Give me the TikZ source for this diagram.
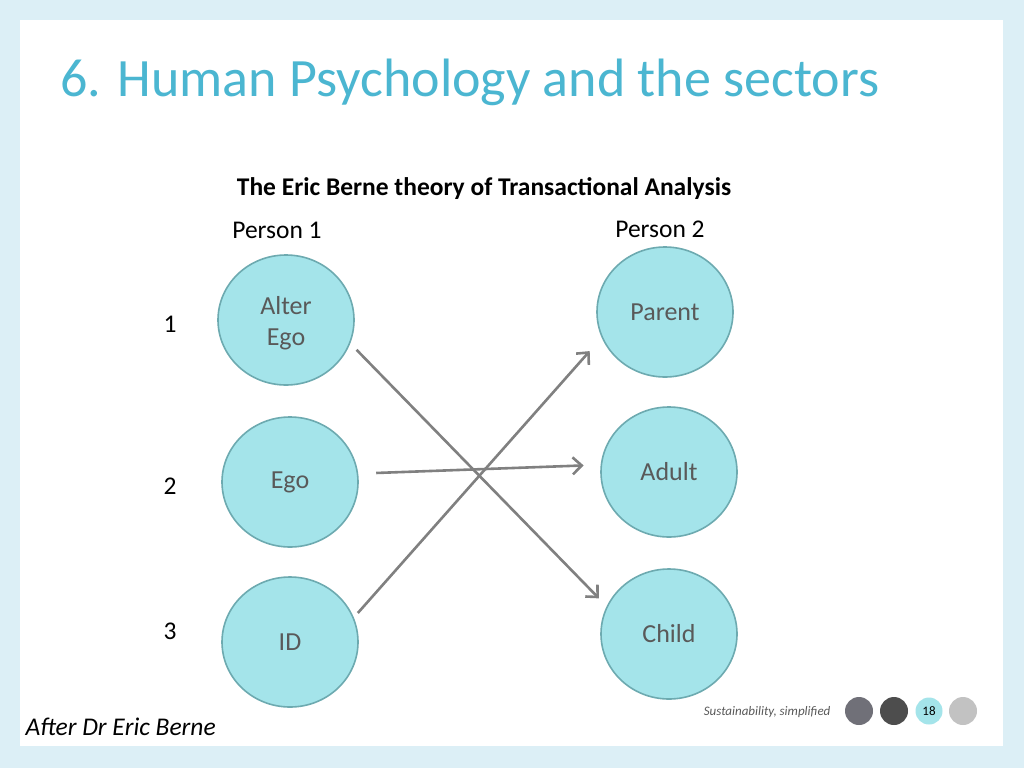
\documentclass[tikz,border=0pt]{standalone}
\usepackage{fontspec}
\setmainfont{Carlito}
\usetikzlibrary{shapes.geometric,arrows.meta}

\definecolor{framebg}{HTML}{DCEFF6}
\definecolor{titleblue}{HTML}{4BB6D1}
\definecolor{bubblefill}{HTML}{A4E4EA}
\definecolor{bubbleline}{HTML}{6DAAB0}
\definecolor{bubbletext}{HTML}{595959}
\definecolor{linkgray}{HTML}{808080}
\definecolor{dotone}{HTML}{707078}
\definecolor{dottwo}{HTML}{4D4D4D}
\definecolor{dotfour}{HTML}{C2C2C2}

\tikzset{
  bubble/.style={ellipse,draw=bubbleline,fill=bubblefill,line width=1.6pt,
    minimum width=136pt,minimum height=130pt,inner sep=0pt,
    text=bubbletext,align=center,font=\fontsize{26}{31}\selectfont},
  plain/.style={font=\fontsize{25.5}{30}\selectfont},
  link/.style={draw=linkgray,line width=2.6pt,-{Straight Barb[length=9pt,width=17pt,line width=2.6pt]}},
  dot/.style={circle,minimum size=28pt,inner sep=0pt}
}

\begin{document}
\begin{tikzpicture}[x=1pt,y=-1pt]
\useasboundingbox (0,0) rectangle (1024,768);
\fill[framebg] (0,0) rectangle (1024,768);
\fill[white] (20,20) rectangle (1003,746);

% title and headings
\node[anchor=west,text=titleblue,font=\fontsize{54}{62}\selectfont] (title) at (57,82) {6. Human Psychology and the sectors};
\node[font=\bfseries\fontsize{25.5}{30}\selectfont] (theory) at (484,189) {The Eric Berne theory of Transactional Analysis};
\node[plain] (p1) at (277,230) {Person 1};
\node[plain] (p2) at (660,229) {Person 2};

% row numbers
\node[plain] (n1) at (170,324) {1};
\node[plain] (n2) at (170,486) {2};
\node[plain] (n3) at (170,631) {3};

% person 1
\node[bubble] (alter) at (286,320) {};
\node[text=bubbletext,align=center,font=\fontsize{26}{31}\selectfont] (altertext) at (286,323) {Alter\\Ego};
\node[bubble] (ego) at (290,482) {Ego};
\node[bubble] (id) at (290,642) {ID};

% person 2
\node[bubble] (parent) at (665,312) {Parent};
\node[bubble] (adult) at (669,472) {Adult};
\node[bubble] (child) at (669,634) {Child};

% transactions
\draw[link,shorten <=9pt,shorten >=11pt] (alter.-20) -- (child.156);
\draw[link,shorten <=18pt,shorten >=17pt] (ego.7) -- (adult.174);
\draw[link,shorten <=6pt,shorten >=18pt] (id.21) -- (parent.202);

% footer
\node[anchor=west,font=\itshape\fontsize{25.5}{30}\selectfont] (after) at (22,727) {After Dr Eric Berne};
\node[anchor=east,text=bubbletext,font=\itshape\fontsize{13}{15}\selectfont] (slogan) at (834,712) {Sustainability, simplified};
\node[dot,fill=dotone] (d1) at (859,711) {};
\node[dot,fill=dottwo] (d2) at (894,711) {};
\node[dot,fill=bubblefill,minimum size=27pt,font=\fontsize{13}{15}\selectfont] (d3) at (929,711) {18};
\node[dot,fill=dotfour] (d4) at (963,711) {};

\end{tikzpicture}
\end{document}
